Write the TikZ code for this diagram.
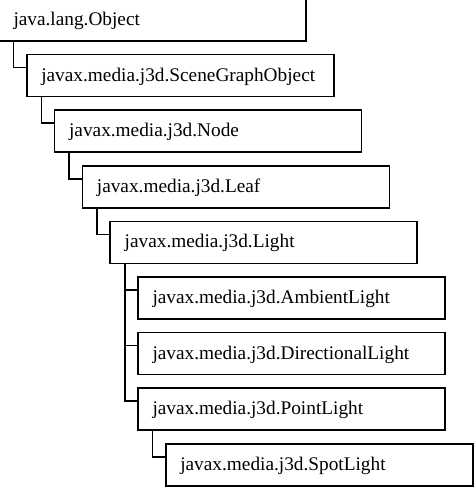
\documentclass[tikz,border=0pt]{standalone}
\usepackage{fontspec}
\setmainfont{Liberation Serif}
\usepackage{tikz}

\begin{document}
\begin{tikzpicture}[x=1pt,y=-1pt,line width=1.6pt,cls/.style={draw,rectangle,anchor=north west,outer sep=0pt,inner xsep=14.5pt,inner ysep=0pt,text width=278pt,align=left,minimum height=42pt,text height=15pt,text depth=4pt,font=\fontsize{19.3}{23}\selectfont}]
\useasboundingbox (0,0) rectangle (474,488);
\foreach \nm/\lv/\rw/\txt in %
{obj/0/0/java.lang.Object,scene/1/1/javax.media.j3d.SceneGraphObject,node/2/2/javax.media.j3d.Node,leaf/3/3/javax.media.j3d.Leaf,light/4/4/javax.media.j3d.Light,ambient/5/5/javax.media.j3d.AmbientLight,directional/5/6/javax.media.j3d.DirectionalLight,point/5/7/javax.media.j3d.PointLight,spot/6/8/javax.media.j3d.SpotLight} {
   \node[cls](\nm) at(-1+27.8*\lv,-1+55.6*\rw) {\txt};
}
\foreach \a/\b in %
{obj/scene,scene/node,node/leaf,leaf/light,light/ambient,light/directional,light/point,point/spot} {
   \draw ([xshift=14.5pt]\a.south west) |- ([yshift=-13pt]\b.north west);
}
\end{tikzpicture}
\end{document}
